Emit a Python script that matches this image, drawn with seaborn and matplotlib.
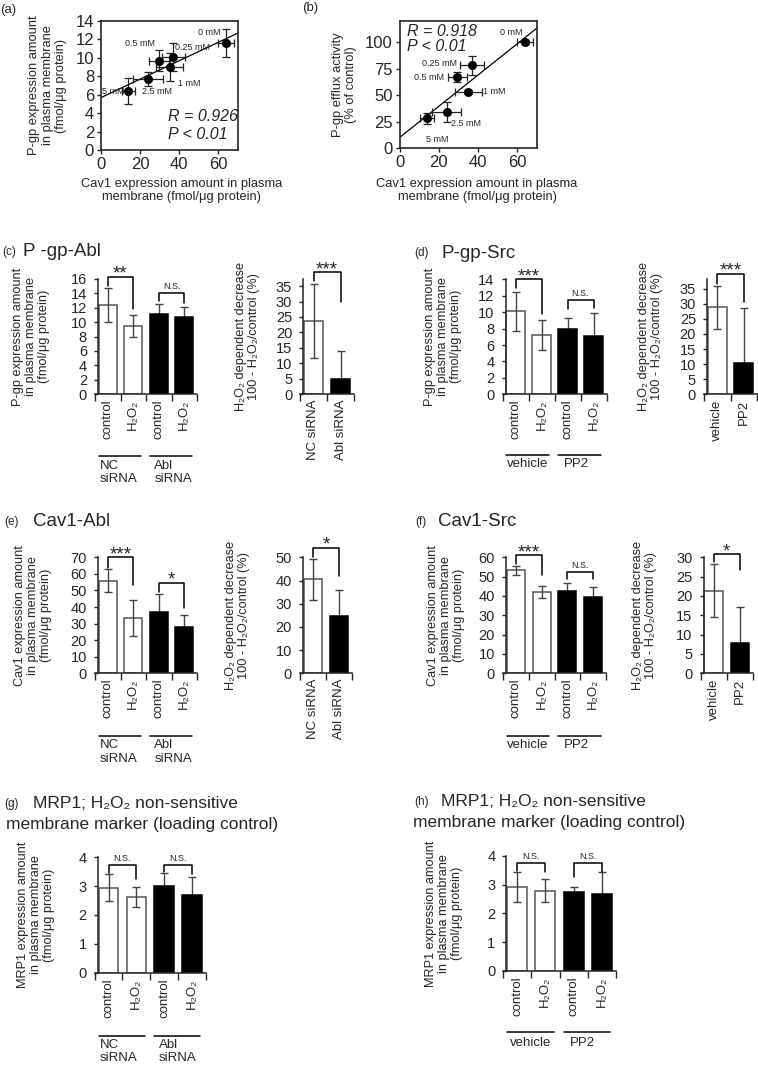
import numpy as np
import matplotlib
matplotlib.use("Agg")
import matplotlib.pyplot as plt
import matplotlib.transforms as mtransforms
import seaborn as sns

sns.set_style("ticks")
plt.rcParams['font.family'] = ['Liberation Sans', 'DejaVu Sans']
plt.rcParams['axes.linewidth'] = 1.1

W, H = 758, 1068

# ---- data: (a)/(b) correlation ----
doses = ['0 mM', '0.25 mM', '0.5 mM', '1 mM', '2.5 mM', '5 mM']
cav1 = [64, 37, 29.5, 35, 24, 14]
cav1_err = [4, 6, 5, 7, 7.5, 3.4]
pgp = [11.6, 10.1, 9.7, 9.0, 7.7, 6.4]
pgp_err = [1.5, 1.5, 1.1, 1.5, 0.8, 1.4]
efflux = [100, 78, 67, 53, 34, 28]
efflux_err = [2, 9, 5, 2, 9, 5]

# ---- data: bar panels ----
keys4 = ['ctrl_1', 'h2o2_1', 'ctrl_2', 'h2o2_2']
ticks4 = ['control', 'H₂O₂', 'control', 'H₂O₂']
fill4 = ['white', 'white', 'black', 'black']
fill2 = ['white', 'black']

pgp_abl = [12.4, 9.5, 11.2, 10.7]
pgp_abl_sd = [2.4, 1.5, 1.3, 1.4]
pgp_abl_dec = [23.7, 4.9]
pgp_abl_dec_sd = [12.0, 9.2]

pgp_src = [10.1, 7.2, 8.0, 7.15]
pgp_src_sd = [2.4, 1.85, 1.3, 2.7]
pgp_src_dec = [28.8, 10.3]
pgp_src_dec_sd = [7.0, 18.2]

cav_abl = [55.8, 33.5, 37.0, 27.8]
cav_abl_sd = [7.0, 11.0, 11.0, 7.5]
cav_abl_dec = [40.5, 24.7]
cav_abl_dec_sd = [8.8, 11.0]

cav_src = [53.2, 42.0, 42.7, 39.6]
cav_src_sd = [2.5, 3.2, 3.8, 5.2]
cav_src_dec = [21.4, 7.75]
cav_src_dec_sd = [6.9, 9.3]

mrp_abl = [2.95, 2.63, 3.0, 2.69]
mrp_abl_sd = [0.47, 0.35, 0.44, 0.63]
mrp_src = [2.9, 2.78, 2.73, 2.66]
mrp_src_sd = [0.52, 0.4, 0.2, 0.77]

ylab_pgp = "P-gp expression amount\nin plasma membrane\n(fmol/μg protein)"
ylab_cav = "Cav1 expression amount\nin plasma membrane\n(fmol/μg protein)"
ylab_mrp = "MRP1 expression amount\nin plasma membrane\n(fmol/μg protein)"
ylab_dec = "H₂O₂ dependent decrease\n100 - H₂O₂/control (%)"
xlab_cav = "Cav1 expression amount in plasma\nmembrane (fmol/μg protein)"

fig = plt.figure(figsize=(W / 100, H / 100), dpi=100)


def add_ax(x0, x1, ytop, ybot):
    return fig.add_axes([x0 / W, 1 - ybot / H, (x1 - x0) / W, (ybot - ytop) / H])


def ftext(x, y, s, size, **kw):
    fig.text(x / W, 1 - y / H, s, fontsize=size, va='center', ha='left', **kw)


# ---------------- (a) and (b) scatter panels ----------------
def scatter_panel(box, yvals, yerr, ylim, yticks, ylabel, ylab_right, xlab_center, stats, stat_pos, offsets):
    x0, x1, ytop, ybot = box
    ax = add_ax(*box)
    ax.set_xlim(0, 70)
    ax.set_ylim(*ylim)
    sns.regplot(x=cav1, y=yvals, ci=None, scatter=False, truncate=False,
                color='black', line_kws={'lw': 0.9}, ax=ax)
    ax.errorbar(cav1, yvals, xerr=cav1_err, yerr=yerr, fmt='none', ecolor='#222',
                elinewidth=0.9, capsize=3, capthick=0.9, zorder=2)
    sns.scatterplot(x=cav1, y=yvals, color='black', s=36, edgecolor='black', zorder=3, ax=ax)
    ax.set_xlim(0, 70)
    ax.set_ylim(*ylim)
    ax.set_xticks([0, 20, 40, 60])
    ax.set_yticks(yticks)
    ax.tick_params(labelsize=12, length=3, width=1, pad=2)
    for sp in ax.spines.values():
        sp.set_visible(True)
        sp.set_linewidth(1.2)
    ax.set_ylabel(ylabel, fontsize=9.3, linespacing=1.15)
    ax.yaxis.set_label_coords((ylab_right - x0) / (x1 - x0), 0.5)
    ax.set_xlabel(xlab_cav, fontsize=9.3, linespacing=1.15)
    ax.xaxis.set_label_coords((xlab_center - x0) / (x1 - x0), -(178 - ybot) / (ybot - ytop))
    for i, (dx, dy, ha) in enumerate(offsets):
        ax.annotate(doses[i], (cav1[i], yvals[i]), xytext=(dx, dy), textcoords='offset pixels',
                    ha=ha, va='center', fontsize=6.5)
    for s, (tx, ty) in zip(stats, stat_pos):
        ax.text(tx, ty, s, transform=ax.transAxes, fontsize=11.5, style='italic', va='center')
    return ax


scatter_panel((101, 238, 21, 150), pgp, pgp_err, (0, 14), range(0, 15, 2), ylab_pgp, 67, 182,
              ['R = 0.926', 'P < 0.01'], [(0.49, 0.256), (0.49, 0.124)],
              [(-6, 11, 'right'), (2, 9, 'left'), (-4, 17, 'right'),
               (8, -16, 'left'), (-6, -12, 'left'), (-4, 0, 'right')])
scatter_panel((399.5, 537, 21, 148), efflux, efflux_err, (0, 120), [0, 25, 50, 75, 100],
              "P-gp efflux activity\n(% of control)", 357, 477,
              ['R = 0.918', 'P < 0.01'], [(0.057, 0.916), (0.057, 0.80)],
              [(-3, 10, 'right'), (-15, 2, 'right'), (-13, 0, 'right'),
               (15, 0, 'left'), (4, -11, 'left'), (-1, -21, 'left')])
ftext(0, 10, "(a)", 9.5)
ftext(302, 8, "(b)", 9.5)


# ---------------- bar panels ----------------
def bracket(ax, x1, x2, ytop, yl, yr, text):
    ax.plot([x1, x1, x2, x2], [yl, ytop, ytop, yr], color='black', lw=1.1, clip_on=False)
    if text == 'N.S.':
        ax.annotate(text, ((x1 + x2) / 2, ytop), xytext=(0, 3), textcoords='offset points',
                    ha='center', va='baseline', fontsize=6.5, annotation_clip=False)
    else:
        ax.annotate(text, ((x1 + x2) / 2, ytop), xytext=(0, -1.5), textcoords='offset points',
                    ha='center', va='baseline', fontsize=13.5, annotation_clip=False)


def bar_panel(box, keys, ticklabels, means, sds, fills, ymax, yticks, ylabel, ylab_right,
              brackets, groups=None):
    x0, x1, ytop, ybot = box
    ax = add_ax(*box)
    n = len(keys)
    sns.barplot(x=keys, y=means, hue=keys, order=keys, palette=dict(zip(keys, fills)),
                width=0.7, errorbar=None, legend=False, ax=ax, linewidth=1.1)
    for p, f in zip(ax.patches, fills):
        p.set_edgecolor('#555' if f == 'white' else 'black')
    for i, (m, s, f) in enumerate(zip(means, sds, fills)):
        z = 3 if f == 'white' else 0.5
        ax.errorbar([i], [m], yerr=[s], fmt='none', ecolor='#444', elinewidth=1,
                    capsize=3, capthick=1, zorder=z)
    ax.set_xlim(-0.5, n - 0.5)
    ax.set_ylim(0, ymax)
    ax.set_yticks(yticks)
    ax.set_xticks(range(n))
    ax.set_xticklabels(ticklabels, rotation=90, fontsize=9.5)
    ax.set_xticks(np.arange(-0.5, n, 1.0), minor=True)
    ax.tick_params(axis='x', which='major', length=0, pad=4)
    ax.tick_params(axis='x', which='minor', length=5, width=1, direction='out')
    ax.tick_params(axis='y', labelsize=10.5, length=3, width=1, pad=5)
    sns.despine(ax=ax)
    ax.spines['left'].set_position(('data', -0.38))
    ax.set_ylabel(ylabel, fontsize=9.2, linespacing=1.12)
    ax.yaxis.set_label_coords((ylab_right - x0) / (x1 - x0), 0.5)
    for b in brackets:
        bracket(ax, *b)
    if groups:
        for gx0, gx1, text, tx, ha, dy_line, dy_text in groups:
            tr = mtransforms.blended_transform_factory(ax.transData, ax.transAxes)
            tl = tr + mtransforms.ScaledTranslation(0, -dy_line / 100, fig.dpi_scale_trans)
            tt = tr + mtransforms.ScaledTranslation(0, -dy_text / 100, fig.dpi_scale_trans)
            ax.plot([gx0, gx1], [0, 0], color='black', lw=1.1, transform=tl, clip_on=False)
            ax.text(tx, 0, text, transform=tt, ha=ha, va='top', fontsize=9.5, linespacing=1.15)
    return ax


abl_groups = lambda dl, dt: [(-0.35, 1.3, "NC\nsiRNA", -0.32, 'left', dl, dt),
                             (1.65, 3.3, "Abl\nsiRNA", 1.82, 'left', dl, dt)]
src_groups = lambda dl, dt: [(-0.35, 1.3, "vehicle", 0.47, 'center', dl, dt),
                             (1.65, 3.3, "PP2", 1.85, 'left', dl, dt)]

# (c)
bar_panel((95, 197, 279, 394), keys4, ticks4, pgp_abl, pgp_abl_sd, fill4, 16, range(0, 17, 2),
          ylab_pgp, 50, [(0, 1, 16.3, 15.0, 11.8, '**'), (2, 3, 14.0, 13.0, 12.6, 'N.S.')],
          abl_groups(62, 66))
bar_panel((300, 354, 279, 394), ['NC siRNA', 'Abl siRNA'], ['NC siRNA', 'Abl siRNA'],
          pgp_abl_dec, pgp_abl_dec_sd, fill2, 37.3, range(0, 36, 5), ylab_dec, 260,
          [(0, 1, 39.5, 36.6, 29.9, '***')])
ftext(2, 252, "(c)", 8.5)
ftext(23, 252, "P -gp-Abl", 13.5)

# (d)
bar_panel((502.5, 606.5, 279.3, 394.3), keys4, ticks4, pgp_src, pgp_src_sd, fill4, 14, range(0, 15, 2),
          ylab_pgp, 462, [(0, 1, 14.0, 12.9, 9.75, '***'), (2, 3, 11.5, 10.4, 10.5, 'N.S.')],
          src_groups(61, 64))
bar_panel((704, 757, 279, 394.3), ['vehicle', 'PP2'], ['vehicle', 'PP2'],
          pgp_src_dec, pgp_src_dec_sd, fill2, 38.2, range(0, 36, 5), ylab_dec, 663,
          [(0, 1, 40.0, 36.4, 30.7, '***')])
ftext(414, 253, "(d)", 8.5)
ftext(441, 253, "P-gp-Src", 13.5)

# (e)
bar_panel((95, 197, 557.3, 673.3), keys4, ticks4, cav_abl, cav_abl_sd, fill4, 70, range(0, 71, 10),
          ylab_cav, 52, [(0, 1, 70.0, 63.5, 53.3, '***'), (2, 3, 54.7, 48.9, 39.2, '*')],
          abl_groups(63, 66))
bar_panel((300, 352, 557.3, 673.3), ['NC siRNA', 'Abl siRNA'], ['NC siRNA', 'Abl siRNA'],
          cav_abl_dec, cav_abl_dec_sd, fill2, 50, range(0, 51, 10), ylab_dec, 250,
          [(0, 1, 54.1, 50.0, 42.0, '*')])
ftext(4, 522, "(e)", 8.5)
ftext(33, 522, "Cav1-Abl", 13.5)

# (f)
bar_panel((503, 606, 557.3, 673.3), keys4, ticks4, cav_src, cav_src_sd, fill4, 60, range(0, 61, 10),
          ylab_cav, 465, [(0, 1, 61.2, 56.5, 50.9, '***'), (2, 3, 52.2, 48.6, 48.6, 'N.S.')],
          src_groups(63, 66))
bar_panel((700.5, 753, 557.3, 673.3), ['vehicle', 'PP2'], ['vehicle', 'PP2'],
          cav_src_dec, cav_src_dec_sd, fill2, 30, range(0, 31, 5), ylab_dec, 657,
          [(0, 1, 30.8, 28.7, 26.7, '*')])
ftext(415, 522, "(f)", 8.5)
ftext(438, 522, "Cav1-Src", 13.5)

# (g)
bar_panel((94.6, 205.8, 857.3, 972.7), keys4, ticks4, mrp_abl, mrp_abl_sd, fill4, 4, range(0, 5),
          ylab_mrp, 55, [(0, 1, 3.74, 3.47, 3.25, 'N.S.'), (2, 3, 3.74, 3.5, 3.41, 'N.S.')],
          abl_groups(63, 66))
ftext(4, 804, "(g)", 8.5)
ftext(33, 804, "MRP1; H₂O₂ non-sensitive", 12.5)
ftext(6, 825, "membrane marker (loading control)", 12.5)

# (h)
bar_panel((503, 616, 855.7, 971), keys4, ticks4, mrp_src, mrp_src_sd, fill4, 4, range(0, 5),
          ylab_mrp, 463, [(0, 1, 3.73, 3.47, 3.43, 'N.S.'), (2, 3, 3.73, 3.27, 3.45, 'N.S.')],
          src_groups(61, 66))
ftext(414, 802, "(h)", 8.5)
ftext(441, 802, "MRP1; H₂O₂ non-sensitive", 12.5)
ftext(413, 823, "membrane marker (loading control)", 12.5)

fig.savefig("out.png", dpi=100)
